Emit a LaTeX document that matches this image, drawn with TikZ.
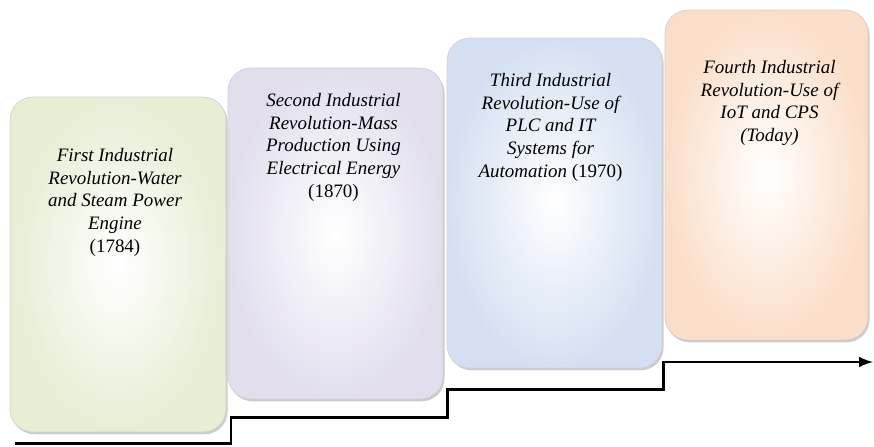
\documentclass[tikz,border=0pt]{standalone}
\usepackage{fontspec}
\setmainfont{Liberation Serif}
\usetikzlibrary{calc,shadows}

\definecolor{firstgreen}{RGB}{230,238,212}
\definecolor{secondlilac}{RGB}{226,222,238}
\definecolor{thirdblue}{RGB}{212,224,242}
\definecolor{fourthpeach}{RGB}{251,222,200}

\tikzset{
  stage/.style={shade, rounded corners=13pt, draw=gray!35, line width=0.4pt, inner color=white,
    drop shadow={shadow xshift=0.9pt, shadow yshift=-1.3pt, opacity=0.4}},
  stagetext/.style={align=center, anchor=north, inner sep=0pt,
    font=\fontsize{10.8}{13}\selectfont\itshape},
}

\begin{document}
\begin{tikzpicture}[x=0.02cm, y=-0.02cm]
\useasboundingbox (0,0) rectangle (874,446);

% the four stages
\node[stage, outer color=firstgreen, minimum width=4.32cm, minimum height=6.70cm] (first) at (118,264.5) {};
\node[stage, outer color=secondlilac, minimum width=4.30cm, minimum height=6.62cm] (second) at (335.5,233.5) {};
\node[stage, outer color=thirdblue, minimum width=4.30cm, minimum height=6.60cm] (third) at (554.5,203) {};
\node[stage, outer color=fourthpeach, minimum width=4.06cm, minimum height=6.60cm] (fourth) at (766.5,175) {};

\node[stagetext] (firsttxt) at ($(first.north)+(-3,51)$)
  {First Industrial\\Revolution-Water\\and Steam Power\\Engine\\{\upshape(1784)}};
\node[stagetext] (secondtxt) at ($(second.north)+(-2,25)$)
  {Second Industrial\\Revolution-Mass\\Production Using\\Electrical Energy\\{\upshape(1870)}};
\node[stagetext] (thirdtxt) at ($(third.north)+(-4,35)$)
  {Third Industrial\\Revolution-Use of\\PLC and IT\\Systems for\\Automation {\upshape(1970)}};
\node[stagetext] (fourthtxt) at ($(fourth.north)+(3,50)$)
  {Fourth Industrial\\Revolution-Use of\\IoT and CPS\\(Today)};

% the steps
\coordinate (T0) at (15,443);
\coordinate (T1) at (231,443);
\coordinate (T2) at (231,417);
\coordinate (T3) at (447,417);
\coordinate (T4) at (447,389);
\coordinate (T5) at (663,389);
\coordinate (T6) at (663,362);
\coordinate (T7) at (873,362);

\draw[line width=1.7pt, -latex] (T0) -- (T1) -- (T2) -- (T3) -- (T4) -- (T5) -- (T6) -- (T7);
\end{tikzpicture}
\end{document}
